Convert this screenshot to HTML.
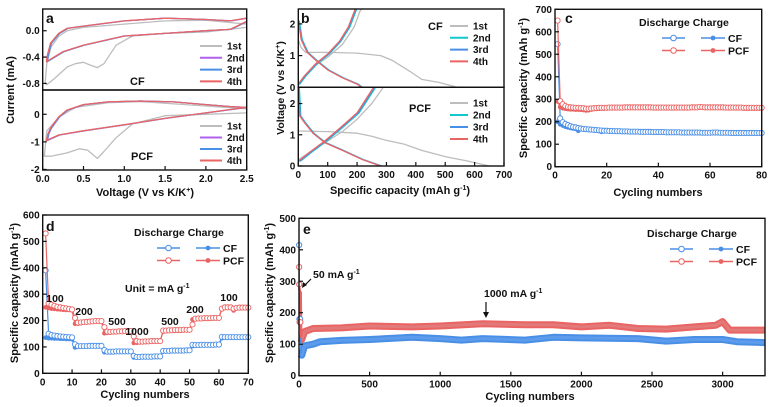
<!DOCTYPE html>
<html><head><meta charset="utf-8"><style>
html,body{margin:0;padding:0;background:#fff;}
svg{display:block;font-family:"Liberation Sans",Arial,sans-serif;font-weight:bold;}
</style></head><body>
<svg id="fig" width="771" height="407" viewBox="0 0 771 407"></svg>
<script>
// ---------- data ----------
// panel a (V, mA)
const aCF1 = [[2.5,0.05],[2.0,-0.02],[1.5,-0.04],[1.1,-0.08],[0.9,-0.22],[0.75,-0.5],[0.67,-0.56],[0.58,-0.52],[0.5,-0.48],[0.4,-0.5],[0.3,-0.55],[0.15,-0.72],[0.05,-0.82],[0.03,-0.8],[0.05,-0.5],[0.1,-0.25],[0.2,-0.08],[0.3,0.0],[0.5,0.05],[1.0,0.1],[1.5,0.15],[2.0,0.16],[2.5,0.1]];
const aCFs = [[2.5,0.14],[2.3,0.02],[2.0,0.0],[1.5,-0.04],[1.0,-0.08],[0.75,-0.15],[0.5,-0.22],[0.25,-0.32],[0.05,-0.47],[0.06,-0.38],[0.1,-0.19],[0.2,-0.04],[0.3,0.035],[0.5,0.07],[1.0,0.15],[1.5,0.19],[2.0,0.17],[2.3,0.15],[2.5,0.19]];
const aPCF1 = [[2.5,0.05],[2.0,0.0],[1.5,-0.05],[1.1,-0.35],[0.9,-0.85],[0.75,-1.35],[0.67,-1.6],[0.55,-1.3],[0.45,-1.25],[0.3,-1.4],[0.1,-1.52],[0.02,-1.52],[0.05,-0.6],[0.2,-0.1],[0.4,0.25],[0.8,0.42],[1.2,0.46],[2.0,0.3],[2.5,0.2]];
const aPCFs = [[2.5,0.25],[2.0,0.05],[1.5,-0.15],[1.0,-0.38],[0.5,-0.6],[0.2,-0.75],[0.05,-0.95],[0.07,-0.7],[0.1,-0.5],[0.2,-0.1],[0.3,0.15],[0.5,0.35],[0.8,0.45],[1.2,0.48],[1.6,0.45],[2.0,0.35],[2.3,0.28],[2.5,0.25]];
// panel b (mAh/g, V)
const bCF1d = [[0,1.5],[10,1.25],[25,1.1],[100,1.1],[200,1.08],[280,1.0],[320,0.85],[380,0.5],[420,0.25],[480,0.15],[540,0.0]];
const bCF1c = [[0,0.05],[20,0.3],[60,0.7],[100,0.95],[150,1.35],[190,1.9],[210,2.4],[218,2.5]];
const bCFsd = [[0,2.1],[10,1.5],[30,1.1],[60,0.85],[100,0.55],[150,0.3],[200,0.1],[215,0]];
const bCFsc = [[0,0.1],[20,0.35],[60,0.75],[100,1.05],[140,1.45],[170,1.9],[195,2.5]];
const bPCF1d = [[0,1.12],[100,1.1],[200,1.05],[250,0.95],[300,0.82],[360,0.7],[420,0.5],[500,0.3],[580,0.15],[650,0]];
const bPCF1c = [[0,0.2],[40,0.45],[100,0.8],[150,1.1],[200,1.5],[250,2.0],[288,2.5]];
const bPCFsd = [[0,2.5],[5,1.6],[20,1.4],[50,1.05],[90,0.75],[150,0.5],[220,0.2],[280,0]];
const bPCFsc = [[0,0.15],[40,0.45],[90,0.8],[140,1.2],[200,1.7],[255,2.5]];
// panel c (cycle index = position+1)
const cCFdis = [545,215,198,190,185,180,177,175,172,170,168,167,166,165,164,163,162,161,160,160,159,159,158,158,158,157,157,157,156,156,156,156,155,155,155,155,155,154,154,154,154,154,153,153,153,153,153,153,152,152,152,152,152,152,152,152,151,151,151,151,152,152,152,151,151,151,151,150,150,150,150,150,150,150,150,150,150,150,150,150];
const cCFchg = [200,188,183,178,175,172,170,168,160,167,165,164,163,162,161,160,159,155,158,158,157,157,156,156,156,155,155,155,154,154,154,154,153,153,153,153,153,152,152,152,152,152,151,151,151,151,151,151,150,150,150,150,150,150,150,150,149,149,149,149,150,150,150,149,149,149,149,148,148,148,148,148,148,148,148,148,148,148,148,148];
const cPCFdis = [650,292,278,270,266,264,263,262,262,261,260,258,258,259,260,261,262,262,262,262,263,263,263,263,263,263,264,264,264,264,264,264,264,264,264,264,264,263,263,263,263,263,263,263,263,263,263,263,263,263,263,263,264,264,264,266,265,264,264,264,264,264,264,264,264,263,263,263,263,263,263,263,262,262,262,262,262,262,262,262];
const cPCFchg = [290,265,260,258,256,255,255,254,254,253,252,250,251,254,256,257,258,259,259,260,260,260,260,260,261,261,261,261,261,261,261,261,261,261,261,261,261,260,260,260,260,260,260,260,260,260,260,260,260,260,260,260,261,261,261,263,262,261,261,261,261,261,261,261,261,260,260,260,260,260,260,260,259,259,259,259,259,259,259,259];
// panel d
const dCFchg = [135,133,133,132,132,131,131,130,130,129,98,100,101,101,102,102,103,103,103,104,80,80,81,81,81,82,82,82,82,83,60,61,61,62,62,62,63,63,63,64,82,83,84,84,85,85,85,86,86,86,103,105,106,106,107,107,107,108,108,108,133,135,136,136,137,137,137,137,137,137];
const dCFdis = [390,150,145,143,141,140,139,138,137,136,110,103,103,103,103,104,104,104,104,104,88,82,82,82,83,83,83,83,83,83,66,62,62,63,63,63,63,64,64,64,85,85,85,86,86,86,86,86,87,87,108,107,107,108,108,108,108,108,109,109,138,137,137,137,137,137,137,137,137,137];
const dPCFchg = [250,247,245,244,243,242,241,240,240,238,188,188,190,192,194,195,196,197,197,198,152,153,154,155,156,157,158,158,159,160,115,116,117,118,118,119,120,120,121,122,158,160,161,162,162,163,163,164,164,165,204,205,206,207,207,208,208,209,209,210,245,248,248,248,238,247,248,248,248,248];
const dPCFdis = [530,265,260,256,252,250,248,246,244,242,210,192,193,194,195,196,197,198,198,198,175,158,157,158,158,159,159,160,160,160,140,122,120,120,121,121,122,122,122,122,162,162,163,163,164,164,164,165,165,165,185,207,208,208,209,209,209,210,210,210,245,250,250,250,245,248,249,249,249,249];
const dRateLabels = ["100","200","500","1000","500","200","100"];
// panel e
const eCFband = [[5,70],[20,65],[40,95],[100,100],[150,108],[300,112],[500,115],[800,122],[1000,118],[1150,113],[1300,118],[1600,113],[1800,122],[2000,120],[2400,118],[2600,110],[2800,115],[3000,115],[3100,108],[3300,105]];
const ePCFband = [[5,120],[20,115],[40,140],[100,150],[300,152],[500,158],[800,155],[1000,158],[1300,165],[1600,162],[1800,162],[2000,155],[2200,160],[2400,150],[2600,148],[2800,155],[2950,160],[3000,172],[3050,145],[3300,145]];
const eCFdis = [[1,415],[3,180],[8,180]];
const ePCFdis = [[1,345],[2,290],[4,170],[10,170]];
const ePCFchg = [[3,280],[6,265],[12,265],[15,120]];
const eCFchg = [[3,200],[6,185],[10,180],[14,70]];

// ---------- helpers ----------
const NS="http://www.w3.org/2000/svg", svg=document.getElementById('fig');
const BLUE="#4a8fe6", RED="#ea6464", GRAY="#bdbdbd", CYAN="#10c8d0", VIO="#b060f0";
function mk(tag, at, name, par){
  const el=document.createElementNS(NS,tag);
  for(const k in at) el.setAttribute(k,at[k]);
  
  
  (par||svg).appendChild(el); return el;
}
function txt(x,y,s,size,name,anchor,extra){
  const t=mk('text',Object.assign({x:x,y:y,'font-size':size,'text-anchor':anchor||'start',fill:'#111'},extra||{}),name);
  t.textContent=s; return t;
}
function lin(d0,d1,r0,r1){return v=>r0+(v-d0)/(d1-d0)*(r1-r0);}
function frame(x0,y0,x1,y1,name){mk('rect',{x:x0,y:y0,width:x1-x0,height:y1-y0,fill:'none',stroke:'#111','stroke-width':1.4},name);}
function yTicks(sy,x0,vals,labels,name,len){
  vals.forEach((v,i)=>{const y=sy(v);
    mk('line',{x1:x0,y1:y,x2:x0+(len||4),y2:y,stroke:'#111','stroke-width':1.2},name+'-tick');
    txt(x0-3,y+3.5,labels[i],10,name+'-label','end');});
}
function xTicks(sx,y0,vals,labels,name){
  vals.forEach((v,i)=>{const x=sx(v);
    mk('line',{x1:x,y1:y0,x2:x,y2:y0-4,stroke:'#111','stroke-width':1.2},name+'-tick');
    txt(x,y0+12,labels[i],10,name+'-label','middle');});
}
function path(pts,sx,sy,color,w,name,dx){
  const d=pts.map((p,i)=>(i?'L':'M')+(sx(p[0])+(dx||0)).toFixed(1)+','+sy(p[1]).toFixed(1)).join(' ');
  return mk('path',{d:d,fill:'none',stroke:color,'stroke-width':w,'stroke-linejoin':'round'},name);
}
function series(vals,sx,sy,color,open,name){
  const pts=vals.map((v,i)=>[i+1,v]);
  path(pts,sx,sy,color,1.2,name+'-line');
  pts.forEach(p=>mk('circle',{cx:sx(p[0]),cy:sy(p[1]),r:open?2.6:2,fill:open?'#fff':color,stroke:color,'stroke-width':open?0.9:0.6},name+'-point'));
}
function rotTitle(x,y,s,name){txt(x,y,s,11,name,'middle',{transform:'rotate(-90 '+x+' '+y+')'});}
function legendLine(x,y,color,label,name,w){
  mk('line',{x1:x,y1:y,x2:x+(w||22),y2:y,stroke:color,'stroke-width':2},name+'-swatch');
  txt(x+(w||22)+5,y+3.5,label,10,name+'-label');
}
function dcLegend(x,y,name){
  txt(x,y,'Discharge  Charge',10.5,name+'-header');
  [[BLUE,'CF'],[RED,'PCF']].forEach((c,i)=>{const yy=y+12+i*12.5;
    mk('line',{x1:x+23,y1:yy,x2:x+46,y2:yy,stroke:c[0],'stroke-width':1.4},name+'-dis-swatch');
    mk('circle',{cx:x+34.5,cy:yy,r:2.8,fill:'#fff',stroke:c[0]},name+'-dis-marker');
    mk('line',{x1:x+62,y1:yy,x2:x+86,y2:yy,stroke:c[0],'stroke-width':1.6},name+'-chg-swatch');
    mk('circle',{cx:x+74,cy:yy,r:2.4,fill:c[0]},name+'-chg-marker');
    txt(x+89,yy+4,c[1],10.5,name+'-label');});
}
function clip(id,x0,y0,x1,y1){const c=mk('clipPath',{id:id},'clip');mk('rect',{x:x0,y:y0,width:x1-x0,height:y1-y0},'clip-rect',c);return 'url(#'+id+')';}

// ---------- panel a ----------
(function(){
  const X0=42.7,X1=246.7,T=9,M=90,B=170;
  const sx=lin(0,2.5,X0,X1), syT=lin(-0.9,0.33,M,T), syB=lin(-2.02,0.88,B,M);
  const g1=mk('g',{'clip-path':clip('ca1',X0,T,X1,M)},'cv-cf-plot');
  const g2=mk('g',{'clip-path':clip('ca2',X0,M,X1,B)},'cv-pcf-plot');
  [[aCF1,GRAY,0],[aCFs,VIO,0],[aCFs,BLUE,0.6],[aCFs,RED,-0.4]].forEach((s,i)=>g1.appendChild(path(s[0],v=>sx(v)+s[2],syT,s[1],1.3,'cv-cf-cycle-'+(i+1))));
  [[aPCF1,GRAY,0],[aPCFs,VIO,0.6],[aPCFs,BLUE,0.3],[aPCFs,RED,-0.4]].forEach((s,i)=>g2.appendChild(path(s[0],v=>sx(v)+s[2],syB,s[1],1.3,'cv-pcf-cycle-'+(i+1))));
  frame(X0,T,X1,M,'cv-cf-frame'); frame(X0,M,X1,B,'cv-pcf-frame');
  yTicks(syT,X0,[0,-0.4,-0.8],['0.0','-0.4','-0.8'],'a-top-y');
  yTicks(syB,X0,[0,-1,-2],['0','-1','-2'],'a-bot-y');
  xTicks(sx,B,[0,0.5,1,1.5,2,2.5],['0.0','0.5','1.0','1.5','2.0','2.5'],'a-x');
  txt(46,23,'a',14,'panel-a-label');
  txt(130,85,'CF',11,'a-cf-label'); txt(131,160,'PCF',11,'a-pcf-label');
  ['1st','2nd','3rd','4th'].forEach((l,i)=>{const c=[GRAY,VIO,BLUE,RED][i];
    legendLine(200,46+i*11.8,c,l,'a-top-legend');legendLine(200,126+i*11.5,c,l,'a-bot-legend');});
  rotTitle(14,90,'Current (mA)','a-y-title');
  mk('text',{x:145,y:196,'font-size':11,'text-anchor':'middle',fill:'#111'},'a-x-title').innerHTML='Voltage (V vs K/K<tspan dy="-4" font-size="7">+</tspan><tspan dy="4">)</tspan>';
})();

// ---------- panel b ----------
(function(){
  const X0=298.3,X1=504,T=9,M=87.3,B=166;
  const sx=lin(0,700,X0,X1), syT=lin(0,2.47,M,T), syB=lin(0,2.52,B,M);
  const g1=mk('g',{'clip-path':clip('cb1',X0,T,X1,M)},'gcd-cf-plot');
  const g2=mk('g',{'clip-path':clip('cb2',X0,M,X1,B)},'gcd-pcf-plot');
  [[bCF1d,GRAY,0],[bCF1c,GRAY,0],[bCFsd,CYAN,1],[bCFsc,CYAN,1.5],[bCFsd,BLUE,0.5],[bCFsc,BLUE,0.6],[bCFsd,RED,0],[bCFsc,RED,0]].forEach(s=>g1.appendChild(path(s[0],v=>sx(v)+s[2],syT,s[1],1.3,'gcd-cf-curve')));
  [[bPCF1d,GRAY,0],[bPCF1c,GRAY,0],[bPCFsd,CYAN,1],[bPCFsc,CYAN,2],[bPCFsd,BLUE,0.5],[bPCFsc,BLUE,1],[bPCFsd,RED,0],[bPCFsc,RED,0]].forEach(s=>g2.appendChild(path(s[0],v=>sx(v)+s[2],syB,s[1],1.3,'gcd-pcf-curve')));
  frame(X0,T,X1,M,'gcd-cf-frame'); frame(X0,M,X1,B,'gcd-pcf-frame');
  yTicks(syT,X0,[0,1,2],['0','1','2'],'b-top-y');
  yTicks(syB,X0,[0,1,2],['0','1','2'],'b-bot-y');
  xTicks(sx,B,[0,100,200,300,400,500,600,700],['0','100','200','300','400','500','600','700'],'b-x');
  txt(301,23,'b',14,'panel-b-label');
  txt(428,30,'CF',11,'b-cf-label'); txt(409,112,'PCF',11,'b-pcf-label');
  ['1st','2nd','3rd','4th'].forEach((l,i)=>{const c=[GRAY,CYAN,BLUE,RED][i];
    legendLine(450,26+i*11.8,c,l,'b-top-legend',18);legendLine(450,103+i*12,c,l,'b-bot-legend',18);});
  mk('text',{x:284,y:88,'font-size':10.5,'text-anchor':'middle',fill:'#111',transform:'rotate(-90 284 88)'},'b-y-title').innerHTML='Voltage (V vs K/K<tspan dy="-4" font-size="7">+</tspan><tspan dy="4">)</tspan>';
  mk('text',{x:400,y:194,'font-size':11,'text-anchor':'middle',fill:'#111'},'b-x-title').innerHTML='Specific capacity (mAh g<tspan dy="-4" font-size="7">-1</tspan><tspan dy="4">)</tspan>';
})();

// ---------- panel c ----------
(function(){
  const X0=555,X1=761.7,T=9.3,B=166.7;
  const sx=lin(0,80,X0,X1), sy=lin(0,700,B,T);
  series(cCFchg,sx,sy,BLUE,false,'c-cf-charge'); series(cCFdis,sx,sy,BLUE,true,'c-cf-discharge');
  series(cPCFchg,sx,sy,RED,false,'c-pcf-charge'); series(cPCFdis,sx,sy,RED,true,'c-pcf-discharge');
  frame(X0,T,X1,B,'c-frame');
  yTicks(sy,X0,[0,100,200,300,400,500,600,700],['0','100','200','300','400','500','600','700'],'c-y');
  xTicks(sx,B,[0,20,40,60,80],['0','20','40','60','80'],'c-x');
  txt(565,23,'c',14,'panel-c-label');
  dcLegend(639,26,'c-legend');
  mk('text',{x:527,y:88,'font-size':11,'text-anchor':'middle',fill:'#111',transform:'rotate(-90 527 88)'},'c-y-title').innerHTML='Specific capacity (mAh g<tspan dy="-4" font-size="7">-1</tspan><tspan dy="4">)</tspan>';
  txt(658,196,'Cycling numbers',11,'c-x-title','middle');
})();

// ---------- panel d ----------
(function(){
  const X0=42.7,X1=248.3,T=215,B=373.3;
  const sx=lin(0,70,X0,X1), sy=lin(0,600,B,T);
  series(dCFchg,sx,sy,BLUE,false,'d-cf-charge'); series(dCFdis,sx,sy,BLUE,true,'d-cf-discharge');
  series(dPCFchg,sx,sy,RED,false,'d-pcf-charge'); series(dPCFdis,sx,sy,RED,true,'d-pcf-discharge');
  frame(X0,T,X1,B,'d-frame');
  yTicks(sy,X0,[0,100,200,300,400,500,600],['0','100','200','300','400','500','600'],'d-y');
  xTicks(sx,B,[0,10,20,30,40,50,60,70],['0','10','20','30','40','50','60','70'],'d-x');
  txt(46,231,'d',14,'panel-d-label');
  dcLegend(134,236,'d-legend');
  mk('text',{x:125,y:292,'font-size':10.5,fill:'#111'},'d-unit-label').innerHTML='Unit = mA g<tspan dy="-4" font-size="7">-1</tspan>';
  const lp=[[55,302],[84,315],[117,325],[137,335],[170,325],[195,313],[229,301]];
  dRateLabels.forEach((l,i)=>txt(lp[i][0],lp[i][1],l,10.5,'d-rate-label','middle'));
  mk('text',{x:18,y:293,'font-size':11,'text-anchor':'middle',fill:'#111',transform:'rotate(-90 18 293)'},'d-y-title').innerHTML='Specific capacity (mAh g<tspan dy="-4" font-size="7">-1</tspan><tspan dy="4">)</tspan>';
  txt(145,398,'Cycling numbers',11,'d-x-title','middle');
})();

// ---------- panel e ----------
(function(){
  const X0=299,X1=765,T=218.3,B=375.7;
  const sx=lin(0,3300,X0,X1), sy=lin(0,500,B,T);
  path(ePCFband,sx,sy,RED,7,'e-pcf-band'); path(ePCFband,sx,sy,'#e27a7a',3,'e-pcf-band-core');
  path(eCFband,sx,sy,BLUE,7,'e-cf-band'); path(eCFband,sx,sy,'#5d9cec',3,'e-cf-band-core');
  path(eCFdis,sx,sy,BLUE,1.2,'e-cf-discharge'); path(eCFchg,sx,sy,BLUE,1.5,'e-cf-charge');
  path(ePCFdis,sx,sy,RED,1.2,'e-pcf-discharge'); path(ePCFchg,sx,sy,RED,2.5,'e-pcf-charge');
  eCFdis.forEach(p=>mk('circle',{cx:sx(p[0]),cy:sy(p[1]),r:2.6,fill:'#fff',stroke:BLUE},'e-cf-discharge-point'));
  ePCFdis.forEach(p=>mk('circle',{cx:sx(p[0]),cy:sy(p[1]),r:2.6,fill:'#fff',stroke:RED},'e-pcf-discharge-point'));
  frame(X0,T,X1,B,'e-frame');
  yTicks(sy,X0,[0,100,200,300,400,500],['0','100','200','300','400','500'],'e-y');
  xTicks(sx,B,[0,500,1000,1500,2000,2500,3000],['0','500','1000','1500','2000','2500','3000'],'e-x');
  txt(303,234,'e',14,'panel-e-label');
  dcLegend(647,237,'e-legend');
  mk('text',{x:313,y:278,'font-size':10.5,fill:'#111'},'e-50-label').innerHTML='50 mA g<tspan dy="-4" font-size="7">-1</tspan>';
  mk('line',{x1:311,y1:279,x2:304,y2:286,stroke:'#111','stroke-width':1.2},'e-50-arrow');
  mk('path',{d:'M302,288 L303,282 L307,285 Z',fill:'#111'},'e-50-arrowhead');
  mk('text',{x:484,y:297,'font-size':10.5,fill:'#111'},'e-1000-label').innerHTML='1000 mA g<tspan dy="-4" font-size="7">-1</tspan>';
  mk('line',{x1:486,y1:302,x2:486,y2:313,stroke:'#111','stroke-width':1.2},'e-1000-arrow');
  mk('path',{d:'M483,312 L489,312 L486,318 Z',fill:'#111'},'e-1000-arrowhead');
  mk('text',{x:273,y:293,'font-size':11,'text-anchor':'middle',fill:'#111',transform:'rotate(-90 273 293)'},'e-y-title').innerHTML='Specific capacity (mAh g<tspan dy="-4" font-size="7">-1</tspan><tspan dy="4">)</tspan>';
  txt(530,400,'Cycling numbers',11,'e-x-title','middle');
})();
</script>
</body></html>
